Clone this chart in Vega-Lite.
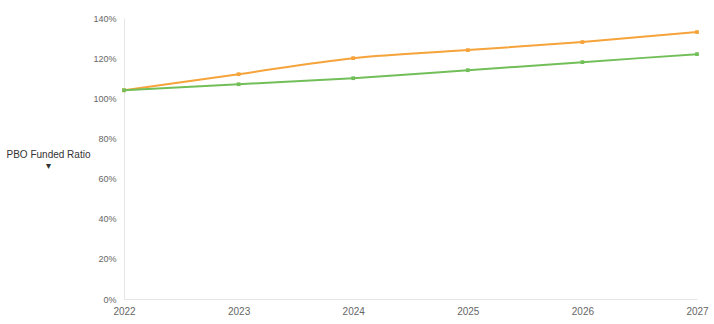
{
  "$schema": "https://vega.github.io/schema/vega-lite/v6.json",
  "autosize": {"type": "none"},
  "width": 573,
  "height": 281,
  "padding": {"left": 124, "top": 18, "right": 17, "bottom": 25},
  "background": "white",
  "config": {"view": {"stroke": null}, "font": "Liberation Sans"},
  "data": {"values": [
    {"year": 2022, "series": "A", "value": 104},
    {"year": 2023, "series": "A", "value": 112},
    {"year": 2024, "series": "A", "value": 120},
    {"year": 2025, "series": "A", "value": 124},
    {"year": 2026, "series": "A", "value": 128},
    {"year": 2027, "series": "A", "value": 133},
    {"year": 2022, "series": "B", "value": 104},
    {"year": 2023, "series": "B", "value": 107},
    {"year": 2024, "series": "B", "value": 110},
    {"year": 2025, "series": "B", "value": 114},
    {"year": 2026, "series": "B", "value": 118},
    {"year": 2027, "series": "B", "value": 122}
  ]},
  "encoding": {
    "x": {"field": "year", "type": "quantitative",
      "scale": {"domain": [2022, 2027], "nice": false, "zero": false},
      "axis": {"values": [2022, 2023, 2024, 2025, 2026, 2027], "format": "d", "title": null, "grid": false,
        "labelFlush": false, "labelBound": false, "labelOverlap": false,
        "ticks": false, "domainColor": "#e6e6e6", "labelColor": "#666666", "labelFontSize": 10, "labelPadding": 7}},
    "y": {"field": "value", "type": "quantitative",
      "scale": {"domain": [0, 140], "nice": false},
      "axis": {"values": [0, 20, 40, 60, 80, 100, 120, 140], "labelExpr": "datum.value + '%'",
        "title": ["PBO Funded Ratio", "▾"], "titleAngle": 0, "titleX": -76, "titleY": 136,
        "titleAlign": "center", "titleBaseline": "middle", "titleFontWeight": "normal", "titleFontSize": 10,
        "titleColor": "#333333", "titleLineHeight": 11,
        "grid": false, "ticks": false, "domainColor": "#e6e6e6", "labelColor": "#666666", "labelFontSize": 9, "labelPadding": 8}},
    "color": {"field": "series", "type": "nominal", "legend": null,
      "scale": {"domain": ["A", "B"], "range": ["#f5a33a", "#72bf5a"]}}
  },
  "layer": [
    {"mark": {"type": "line", "strokeWidth": 2, "interpolate": "monotone"}},
    {"mark": {"type": "square", "size": 14, "opacity": 1, "filled": true}}
  ]
}
